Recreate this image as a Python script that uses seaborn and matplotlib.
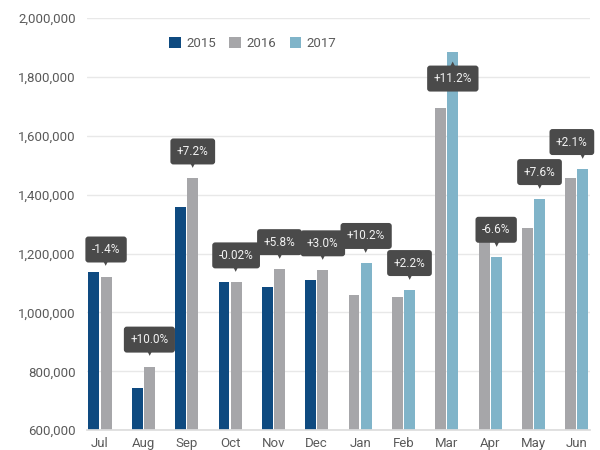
import numpy as np
import pandas as pd
import matplotlib.pyplot as plt
import seaborn as sns
from matplotlib.patches import Patch

months = ['Jul', 'Aug', 'Sep', 'Oct', 'Nov', 'Dec', 'Jan', 'Feb', 'Mar', 'Apr', 'May', 'Jun']
prev_year = ['2015'] * 6 + ['2016'] * 6
curr_year = ['2016'] * 6 + ['2017'] * 6
prev_vals = [1138000, 742000, 1357000, 1102000, 1085000, 1110000,
             1058000, 1052000, 1696000, 1273000, 1288000, 1455000]
curr_vals = [1122000, 816000, 1455000, 1102000, 1147000, 1143000,
             1168000, 1076000, 1886000, 1189000, 1385000, 1487000]
changes = ['-1.4%', '+10.0%', '+7.2%', '-0.02%', '+5.8%', '+3.0%',
           '+10.2%', '+2.2%', '+11.2%', '-6.6%', '+7.6%', '+2.1%']

colors = {'2015': '#0e4a80', '2016': '#a6a6a9', '2017': '#80b4c9'}

df = pd.DataFrame({
    'month': months * 2,
    'slot': ['prev'] * 12 + ['curr'] * 12,
    'year': prev_year + curr_year,
    'value': prev_vals + curr_vals,
})

sns.set_theme(style='white')
plt.rcParams['font.family'] = ['Roboto', 'DejaVu Sans']

fig = plt.figure(figsize=(6, 4.5), dpi=100)
ax = fig.add_axes([0.145, 0.044, 0.838, 0.916])

sns.barplot(data=df, x='month', y='value', hue='slot', hue_order=['prev', 'curr'],
            order=months, width=0.56, gap=0.1, legend=False, ax=ax,
            palette=['#888888', '#888888'], saturation=1)

# recolour bars by year (patches: all 'prev' first, then all 'curr')
bars = ax.patches[:24]
for bar, yr in zip(bars, prev_year + curr_year):
    bar.set_facecolor(colors[yr])
    bar.set_edgecolor('none')

ax.set_ylim(600000, 2000000)
ax.set_xlim(-0.3, 11.3)
ax.set_yticks(np.arange(600000, 2000001, 200000))
ax.set_yticklabels([f'{v:,}' for v in range(600000, 2000001, 200000)])
ax.yaxis.grid(True, color='#e8e8e8', linewidth=1)
ax.set_axisbelow(True)
for s in ['top', 'right', 'left']:
    ax.spines[s].set_visible(False)
ax.spines['bottom'].set_color('#dddddd')
ax.tick_params(axis='both', length=0, labelsize=9.5, labelcolor='#5a5a5a')
ax.tick_params(axis='y', pad=8)
ax.tick_params(axis='x', pad=5)
ax.set_xlabel('')
ax.set_ylabel('')

# change labels above the later-year bar
box_col = '#4a4a4a'
for i, bar in enumerate(bars[12:]):
    x = bar.get_x() + bar.get_width() / 2
    y = bar.get_height()
    up = months[i] == 'Mar'
    off = -27 if up else 27
    xoff = -11 if i == len(months) - 1 else 0  # keep last box inside the chart
    ax.annotate(changes[i], xy=(x, y), xytext=(xoff, off), textcoords='offset pixels',
                ha='center', va='center', fontsize=8.5, color='#f2f2f2',
                bbox=dict(boxstyle='round,pad=0.55,rounding_size=0.25', fc=box_col, ec='none'))
    noff = -13 if up else 13
    ax.annotate('▲' if up else '▼', xy=(x, y), xytext=(0, noff), textcoords='offset pixels',
                ha='center', va='center', fontsize=5, color=box_col,
                family=['DejaVu Sans'])

handles = [Patch(facecolor=colors[k], edgecolor='none') for k in ['2015', '2016', '2017']]
ax.legend(handles, ['2015', '2016', '2017'], loc='center', bbox_to_anchor=(0.33, 0.937),
          ncol=3, frameon=False, fontsize=9.5, handlelength=0.9, handleheight=0.9,
          handletextpad=0.4, columnspacing=1.0, labelcolor='#5a5a5a')

fig.savefig('out.png', dpi=100)
